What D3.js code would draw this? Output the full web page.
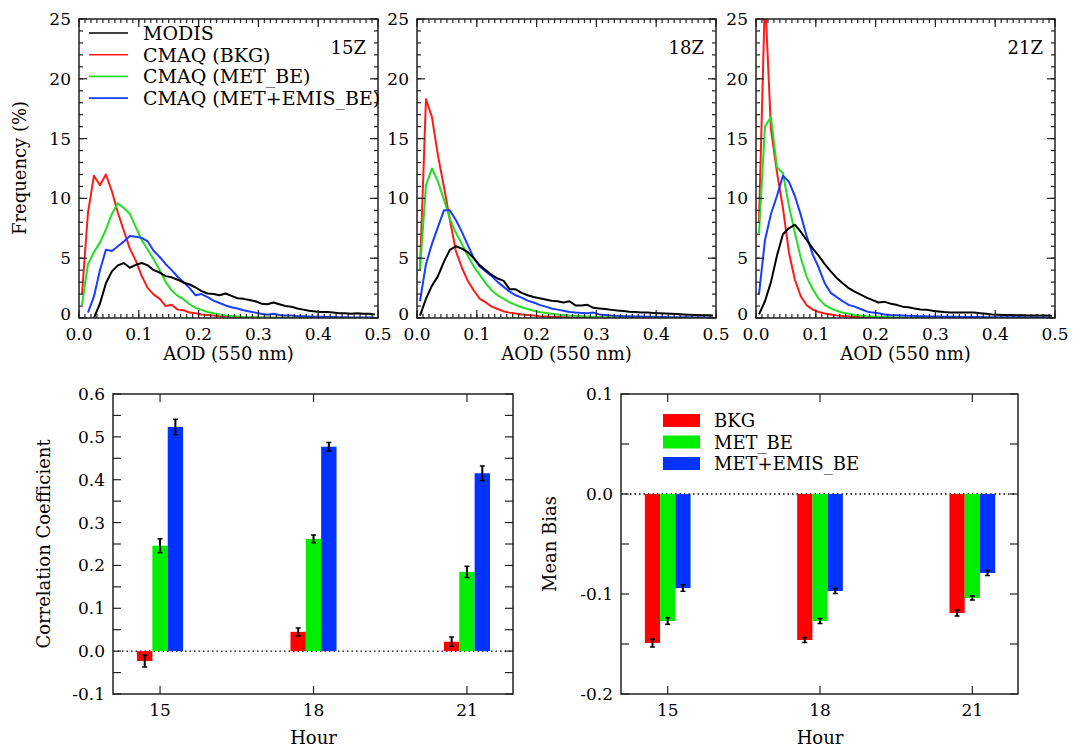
<!DOCTYPE html>
<html><head><meta charset="utf-8">
<script src="https://cdn.jsdelivr.net/npm/d3@7"></script>
<style>
html,body{margin:0;padding:0;background:#fff;}
svg text{font-family:"DejaVu Serif","Liberation Serif",serif;fill:#000;}
</style></head>
<body><svg id="c" width="1073" height="750"></svg>
<script>
// ---------- DATA ----------
const aod = [0.005,0.015,0.025,0.035,0.045,0.055,0.065,0.075,0.085,0.095,
 0.105,0.115,0.125,0.135,0.145,0.155,0.165,0.175,0.185,0.195,
 0.205,0.215,0.225,0.235,0.245,0.255,0.265,0.275,0.285,0.295,
 0.305,0.315,0.325,0.335,0.345,0.355,0.365,0.375,0.385,0.395,
 0.405,0.415,0.425,0.435,0.445,0.455,0.465,0.475,0.485,0.495];

const panels = ["15Z","18Z","21Z"];
const seriesNames = ["MODIS","CMAQ (BKG)","CMAQ (MET_BE)","CMAQ (MET+EMIS_BE)"];
const lineColors = ["#000000","#ff1a1a","#22dd22","#1a3cff"];

const modis15 = [null,null,0,1.2,2.9,3.9,4.4,4.6,4.2,4.45,
 4.6,4.4,4.0,3.8,3.5,3.4,3.2,2.95,2.8,2.55,
 2.25,2.05,2.0,1.9,2.05,1.85,1.65,1.6,1.5,1.4,
 1.2,1.15,1.3,1.15,1.0,0.95,0.8,0.7,0.6,0.55,
 0.5,0.5,0.45,0.4,0.4,0.35,0.4,0.35,0.35,0.3];
const bkg15 = [2.0,8.8,11.9,11.1,12.0,10.6,8.8,7.3,5.8,4.8,
 3.5,2.5,1.95,1.6,1.0,1.1,0.7,0.65,0.45,0.4,
 0.3,0.25,0.2,0.15,0.12,0.1,0.08,0.06,0.05,0.04,
 0.03,0.03,0.02,0.02,0.02,0.01,0.01,0.01,0.01,0.01,
 0.01,0,0,0,0,0,0,0,0,0];
const met15 = [1.1,4.5,5.5,6.3,7.4,8.7,9.6,9.2,8.7,7.6,
 6.5,5.7,4.9,4.0,3.0,2.3,1.85,1.55,1.15,0.85,
 0.68,0.5,0.4,0.3,0.22,0.16,0.12,0.09,0.07,0.05,
 0.04,0.04,0.03,0.03,0.02,0.02,0.02,0.01,0.01,0.01,
 0.01,0.01,0,0,0,0,0,0,0,0];
const emis15 = [null,0.45,1.8,4.0,5.7,5.6,6.0,6.4,6.85,6.8,
 6.7,6.4,5.6,5.1,4.5,4.0,3.45,3.0,2.5,1.9,
 2.0,1.75,1.45,1.25,1.05,0.9,0.8,0.65,0.55,0.45,
 0.35,0.28,0.35,0.25,0.2,0.2,0.15,0.15,0.12,0.1,
 0.1,0.08,0.08,0.06,0.06,0.05,0.05,0.04,0.04,0.03];

const modis18 = [0.2,1.6,2.7,3.5,4.7,5.7,6.0,5.8,5.5,5.0,
 4.4,4.0,3.6,3.3,3.1,2.4,2.4,2.1,1.9,1.75,
 1.65,1.55,1.45,1.4,1.3,1.4,1.05,1.05,1.1,0.85,
 0.8,0.75,0.68,0.62,0.58,0.53,0.5,0.47,0.45,0.42,
 0.4,0.38,0.35,0.33,0.3,0.28,0.26,0.24,0.22,0.2];
const bkg18 = [4.0,18.3,16.8,13.6,11.0,8.2,5.6,4.2,3.1,2.3,
 1.6,1.3,0.95,0.75,0.55,0.45,0.38,0.3,0.25,0.2,
 0.15,0.12,0.1,0.08,0.06,0.05,0.04,0.03,0.02,0.02,
 0.01,0.01,0.01,0.01,0,0,0,0,0,0,
 0,0,0,0,0,0,0,0,0,0];
const met18 = [4.0,11.1,12.5,11.4,9.9,8.3,7.1,6.2,5.2,4.3,
 3.6,2.9,2.3,1.9,1.6,1.3,1.1,0.9,0.75,0.6,
 0.5,0.42,0.35,0.3,0.25,0.2,0.17,0.14,0.12,0.1,
 0.08,0.07,0.06,0.05,0.04,0.04,0.03,0.03,0.02,0.02,
 0.02,0.02,0.01,0.01,0.01,0.01,0.01,0.01,0.01,0.01];
const emis18 = [1.4,4.5,6.2,7.6,9.0,9.0,8.2,7.2,6.1,5.0,
 4.3,3.9,3.5,3.0,2.6,2.2,1.9,1.7,1.45,1.3,
 1.1,0.95,0.8,0.7,0.6,0.5,0.45,0.42,0.4,0.45,
 0.3,0.25,0.2,0.18,0.15,0.15,0.12,0.12,0.1,0.1,
 0.08,0.08,0.07,0.07,0.06,0.06,0.05,0.05,0.05,0.05];

const modis21 = [0.3,1.4,3.0,5.2,7.0,7.5,7.8,7.2,6.5,5.8,
 5.2,4.5,3.9,3.35,2.9,2.5,2.2,1.95,1.7,1.5,
 1.3,1.35,1.2,1.1,0.95,0.9,0.8,0.72,0.7,0.6,
 0.55,0.5,0.47,0.45,0.45,0.45,0.45,0.4,0.35,0.3,
 0.28,0.26,0.25,0.23,0.22,0.2,0.2,0.2,0.2,0.18];
const bkg21 = [8.0,27.0,15.8,12.2,9.2,5.5,3.2,1.8,1.05,0.7,
 0.5,0.38,0.3,0.22,0.16,0.12,0.09,0.07,0.05,0.04,
 0.03,0.02,0.02,0.01,0.01,0.01,0,0,0,0,
 0,0,0,0,0,0,0,0,0,0,
 0,0,0,0,0,0,0,0,0,0];
const met21 = [7.1,16.0,16.8,12.6,12.1,9.4,7.1,5.0,3.4,2.4,
 1.6,1.1,0.8,0.6,0.45,0.35,0.25,0.2,0.15,0.12,
 0.1,0.08,0.06,0.05,0.04,0.03,0.03,0.02,0.02,0.02,
 0.01,0.01,0.01,0.01,0.01,0,0,0,0,0,
 0,0,0,0,0,0,0,0,0,0];
const emis21 = [2.0,6.5,8.7,10.2,11.9,11.4,10.2,8.6,6.8,5.3,
 4.2,2.9,2.1,1.75,1.4,1.1,0.95,0.75,0.55,0.45,
 0.4,0.3,0.25,0.22,0.2,0.18,0.16,0.15,0.14,0.13,
 0.12,0.11,0.1,0.1,0.09,0.09,0.08,0.08,0.07,0.07,
 0.07,0.06,0.06,0.06,0.06,0.05,0.05,0.05,0.05,0.05];

const panelSeries = [
  [modis15, bkg15, met15, emis15],
  [modis18, bkg18, met18, emis18],
  [modis21, bkg21, met21, emis21]
];

const hours = [15, 18, 21];
const barNames = ["BKG","MET_BE","MET+EMIS_BE"];
const barColors = ["#ff0000","#00ee00","#0033ff"];
const corrBKG = [-0.023, 0.045, 0.022];
const corrMET = [0.246, 0.262, 0.185];
const corrEMIS = [0.523, 0.477, 0.415];
const corrErrBKG = [0.014, 0.009, 0.011];
const corrErrMET = [0.016, 0.009, 0.013];
const corrErrEMIS = [0.018, 0.010, 0.017];
const biasBKG = [-0.149, -0.146, -0.119];
const biasMET = [-0.127, -0.127, -0.104];
const biasEMIS = [-0.094, -0.097, -0.079];
const biasErrBKG = [0.004, 0.0025, 0.003];
const biasErrMET = [0.0033, 0.0025, 0.002];
const biasErrEMIS = [0.0033, 0.0025, 0.0025];

// ---------- DRAW ----------
const svg = d3.select("#c");
const FS = 17, TS = 18;

function frameAxes(g, x, y, opt) {
  const [x0, x1] = x.range(), [y0, y1] = y.range();
  const drawTicks = (vals, len, axis) => {
    vals.forEach(v => {
      if (axis === "x") {
        const px = x(v);
        g.append("line").attr("x1", px).attr("x2", px).attr("y1", y0).attr("y2", y0 - len).attr("stroke", "#222").attr("stroke-width", 1.2);
        g.append("line").attr("x1", px).attr("x2", px).attr("y1", y1).attr("y2", y1 + len).attr("stroke", "#222").attr("stroke-width", 1.2);
      } else {
        const py = y(v);
        g.append("line").attr("x1", x0).attr("x2", x0 + len).attr("y1", py).attr("y2", py).attr("stroke", "#222").attr("stroke-width", 1.2);
        g.append("line").attr("x1", x1).attr("x2", x1 - len).attr("y1", py).attr("y2", py).attr("stroke", "#222").attr("stroke-width", 1.2);
      }
    });
  };
  if (opt.xMinor) drawTicks(opt.xMinor, 4, "x");
  if (opt.yMinor) drawTicks(opt.yMinor, opt.yMinorLen || 4, "y");
  drawTicks(opt.xMajor, 8, "x");
  drawTicks(opt.yMajor, 8, "y");
  g.append("rect").attr("x", x0).attr("y", y1).attr("width", x1 - x0).attr("height", y0 - y1)
    .attr("fill", "none").attr("stroke", "#222").attr("stroke-width", 1.5);
  opt.xMajor.forEach(v => {
    g.append("text").attr("x", x(v)).attr("y", y0 + opt.xLabOff).attr("text-anchor", "middle")
      .attr("font-size", FS).text(opt.xFmt(v));
  });
  opt.yMajor.forEach(v => {
    const dy = (opt.lowYUp && v === opt.yMajor[0]) ? 2 : 6;
    g.append("text").attr("x", x0 - opt.yLabOff).attr("y", y(v) + dy).attr("text-anchor", "end")
      .attr("font-size", FS).text(opt.yFmt(v));
  });
}

// top panels
const topX = [[79, 378], [417, 716], [756, 1055]];
const topY = [318, 19];
const xMajTop = [0, 0.1, 0.2, 0.3, 0.4, 0.5];
const xMinTop = d3.range(0, 0.501, 0.01);
const yMajTop = [0, 5, 10, 15, 20, 25];
const yMinTop = d3.range(0, 25.01, 1);

panels.forEach((p, i) => {
  const g = svg.append("g");
  const x = d3.scaleLinear().domain([0, 0.5]).range(topX[i]);
  const y = d3.scaleLinear().domain([0, 25]).range(topY);
  const cid = "clip" + i;
  svg.append("clipPath").attr("id", cid).append("rect")
    .attr("x", topX[i][0]).attr("y", topY[1]).attr("width", topX[i][1] - topX[i][0]).attr("height", topY[0] - topY[1]);
  const line = d3.line().defined(d => d[1] != null).x(d => x(d[0])).y(d => y(d[1]));
  const order = [1, 2, 3, 0];
  order.forEach(s => {
    const vals = panelSeries[i][s];
    g.append("path").attr("clip-path", `url(#${cid})`)
      .datum(aod.map((a, k) => [a, vals[k]]))
      .attr("fill", "none").attr("stroke", lineColors[s]).attr("stroke-width", 2)
      .attr("stroke-linejoin", "round").attr("d", line);
  });
  frameAxes(g, x, y, {
    xMajor: xMajTop, xMinor: xMinTop, yMajor: yMajTop, yMinor: yMinTop,
    xFmt: d => d.toFixed(1), yFmt: d => String(d), xLabOff: 22, yLabOff: 8, lowYUp: true
  });
  g.append("text").attr("x", (topX[i][0] + topX[i][1]) / 2).attr("y", 360).attr("text-anchor", "middle")
    .attr("font-size", TS).text("AOD (550 nm)");
  g.append("text").attr("x", topX[i][1] - 12).attr("y", 54).attr("text-anchor", "end")
    .attr("font-size", TS).text(p);
});
svg.append("text").attr("transform", "translate(26,168) rotate(-90)").attr("text-anchor", "middle")
  .attr("font-size", TS).text("Frequency (%)");

// top legend
seriesNames.forEach((n, k) => {
  const yy = 33 + k * 21.7;
  svg.append("line").attr("x1", 89).attr("x2", 128).attr("y1", yy).attr("y2", yy)
    .attr("stroke", lineColors[k]).attr("stroke-width", 1.6);
  svg.append("text").attr("x", 143).attr("y", yy + 7).attr("font-size", 19).text(n);
});

// bottom panels
function barPanel(xr, yDom, yMajor, yMinor, series, errs, title, titleX) {
  const g = svg.append("g");
  const x = d3.scaleLinear().domain([14.08, 21.9]).range(xr);
  const y = d3.scaleLinear().domain(yDom).range([694, 394]);
  const offs = [-0.3, 0, 0.3];
  const bw = x(14.38) - x(14.08);
  g.append("line").attr("x1", xr[0]).attr("x2", xr[1]).attr("y1", y(0)).attr("y2", y(0))
    .attr("stroke", "#000").attr("stroke-width", 1.3).attr("stroke-dasharray", "1.5,3");
  series.forEach((vals, s) => {
    vals.forEach((v, k) => {
      const cx = x(hours[k] + offs[s]);
      g.append("rect").attr("x", cx - bw / 2).attr("width", bw)
        .attr("y", Math.min(y(v), y(0))).attr("height", Math.abs(y(v) - y(0)))
        .attr("fill", barColors[s]);
    });
  });
  series.forEach((vals, s) => {
    vals.forEach((v, k) => {
      const cx = x(hours[k] + offs[s]);
      const e = errs[s][k];
      g.append("line").attr("x1", cx).attr("x2", cx).attr("y1", y(v - e)).attr("y2", y(v + e))
        .attr("stroke", "#000").attr("stroke-width", 2);
      [v - e, v + e].forEach(t => g.append("line").attr("x1", cx - 2.5).attr("x2", cx + 2.5)
        .attr("y1", y(t)).attr("y2", y(t)).attr("stroke", "#000").attr("stroke-width", 1.5));
    });
  });
  frameAxes(g, x, y, {
    xMajor: hours, yMajor: yMajor, yMinor: yMinor, yMinorLen: 8,
    xFmt: d => String(d), yFmt: d => (Math.abs(d) < 1e-9 ? 0 : d).toFixed(1), xLabOff: 22, yLabOff: 8
  });
  g.append("text").attr("x", x(18)).attr("y", 744).attr("text-anchor", "middle").attr("font-size", TS).text("Hour");
  g.append("text").attr("transform", `translate(${titleX},544) rotate(-90)`).attr("text-anchor", "middle")
    .attr("font-size", TS).text(title);
}

const corrTicks = [-0.1, 0, 0.1, 0.2, 0.3, 0.4, 0.5, 0.6];
const corrMinor = [-0.05, 0.05, 0.15, 0.25, 0.35, 0.45, 0.55];
const biasTicks = [-0.2, -0.1, 0, 0.1];
const biasMinor = [-0.15, -0.05, 0.05];

barPanel([113, 513], [-0.1, 0.6], corrTicks, corrMinor,
  [corrBKG, corrMET, corrEMIS], [corrErrBKG, corrErrMET, corrErrEMIS], "Correlation Coefficient", 50);
barPanel([621, 1018], [-0.2, 0.1], biasTicks, biasMinor,
  [biasBKG, biasMET, biasEMIS], [biasErrBKG, biasErrMET, biasErrEMIS], "Mean Bias", 556);

// bottom legend
barNames.forEach((n, k) => {
  const yy = 414 + k * 21.5;
  svg.append("rect").attr("x", 663).attr("y", yy).attr("width", 37).attr("height", 13).attr("fill", barColors[k]);
  svg.append("text").attr("x", 714).attr("y", yy + 13).attr("font-size", TS).text(n);
});
</script>
</body></html>
